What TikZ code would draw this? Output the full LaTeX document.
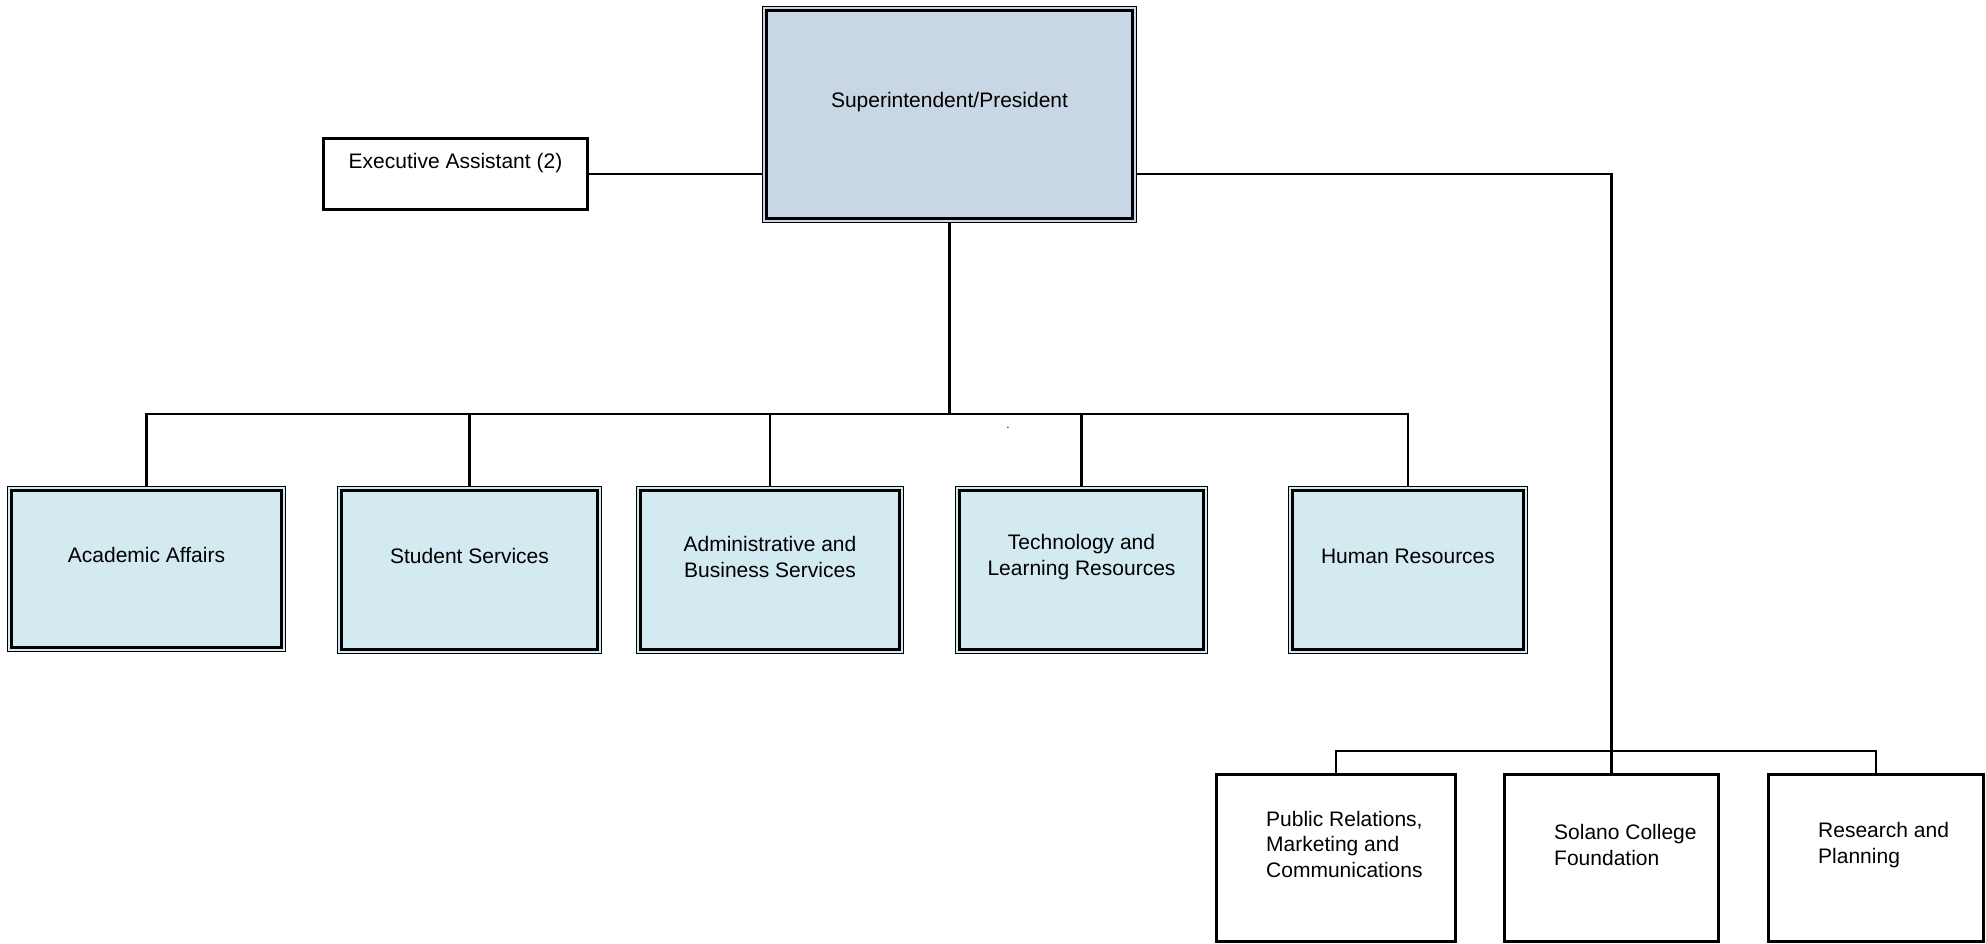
\documentclass[tikz,border=0pt]{standalone}
\usepackage{fontspec}
\setmainfont{Liberation Sans}
\definecolor{supfill}{RGB}{201,214,229}
\definecolor{unitfill}{RGB}{210,234,240}
\begin{document}
\begin{tikzpicture}[x=1pt,y=-1pt,
  every node/.style={font=\fontsize{21}{25.5}\selectfont},
  conn/.style={draw=black,line width=2.2pt},
  dbl/.style={draw=black,line width=1.8pt,fill=#1,inner sep=0pt},
  whitebox/.style={draw=black,line width=2.2pt,fill=white,inner sep=0pt},
  innerframe/.style={draw=black,line width=2.6pt},
  lbl/.style={align=center,inner sep=0pt},
  lbll/.style={align=left,inner sep=0pt,anchor=west}]
\useasboundingbox (0,0) rectangle (1986,944);

% boxes
\node[dbl=supfill, minimum width=374pt, minimum height=216pt] (sup) at (949.5,114.5) {};
\node[whitebox, minimum width=264pt, minimum height=71pt] (ea) at (455.5,174) {};
\node[dbl=unitfill, minimum width=278pt, minimum height=165pt] (aa) at (146.5,569) {};
\node[dbl=unitfill, minimum width=264pt, minimum height=167pt] (ss) at (469.5,570) {};
\node[dbl=unitfill, minimum width=267pt, minimum height=167pt] (abs) at (770,570) {};
\node[dbl=unitfill, minimum width=252pt, minimum height=167pt] (tlr) at (1081.5,570) {};
\node[dbl=unitfill, minimum width=239pt, minimum height=167pt] (hr) at (1408,570) {};
\node[whitebox, minimum width=239pt, minimum height=167pt] (pr) at (1336,858) {};
\node[whitebox, minimum width=214pt, minimum height=167pt] (scf) at (1611.5,858) {};
\node[whitebox, minimum width=215pt, minimum height=167pt] (rp) at (1876,858) {};

\foreach \n in {sup,aa,ss,abs,tlr,hr}
  \draw[innerframe] ([xshift=5pt,yshift=-5pt]\n.north west) rectangle ([xshift=-5pt,yshift=5pt]\n.south east);

% texts
\node[lbl] (sup-t) at (949.5,102) {Superintendent/President};
\node[lbl] (ea-t) at (455.5,163) {Executive Assistant (2)};
\node[lbl] (aa-t) at (146.5,555) {Academic Affairs};
\node[lbl] (ss-t) at (469.5,556) {Student Services};
\node[lbl] (abs-t) at (770,557) {Administrative and\\Business Services};
\node[lbl] (tlr-t) at (1081.5,557) {Technology and\\Learning Resources};
\node[lbl] (hr-t) at (1408,556) {Human Resources};
\node[lbll] (pr-t) at (1266,844) {Public Relations,\\Marketing and\\Communications};
\node[lbll] (scf-t) at (1554,845) {Solano College\\Foundation};
\node[lbll] (rp-t) at (1818,845) {Research and\\Planning};
\node[inner sep=0pt,font=\fontsize{12}{14}\selectfont] (dot) at (1008,428) {.};

% connectors
\coordinate (bus) at (949.5,414);
\coordinate (rtop) at (1611.5,174);
\coordinate (rbus) at (1611.5,751);
\draw[conn] (ea.east) -- (ea.east -| sup.west);
\draw[conn] (sup.south) -- (bus);
\foreach \n in {aa,ss,abs,tlr,hr}
  \draw[conn] (bus) -| (\n.north);
\draw[conn] (rtop -| sup.east) -- (rtop) -- (rbus);
\foreach \n in {pr,scf,rp}
  \draw[conn] (rbus) -| (\n.north);
\end{tikzpicture}
\end{document}
